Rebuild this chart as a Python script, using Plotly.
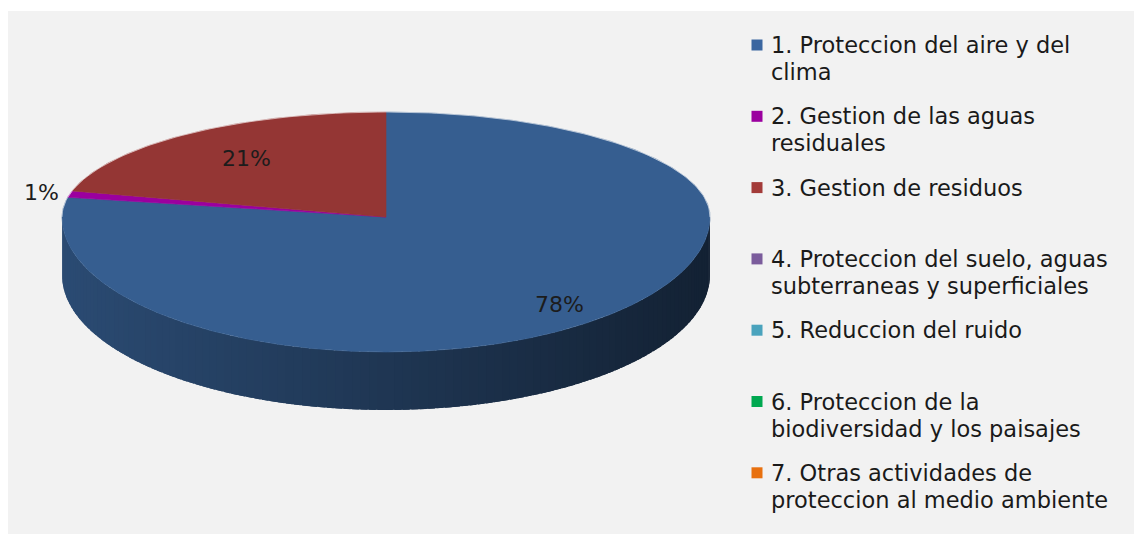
import math
import plotly.graph_objects as go

# ---- data ----
categories = [
    "1. Proteccion del aire y del<br>clima",
    "2. Gestion de las aguas<br>residuales",
    "3. Gestion de residuos",
    "4. Proteccion del suelo, aguas<br>subterraneas y superficiales",
    "5. Reduccion del ruido",
    "6. Proteccion de la<br>biodiversidad y los paisajes",
    "7. Otras actividades de<br>proteccion al medio ambiente",
]
values = [78, 1, 21, 0, 0, 0, 0]
slice_colors = ["#365e90", "#9b009f", "#943634", "#7b5c9c", "#4aa3bd", "#00a850", "#e8700f"]
legend_colors = ["#3b66a0", "#9b009f", "#a33b39", "#7b5c9c", "#4aa3bd", "#00a850", "#e8700f"]
label_radius = [0.84, 1.09, 0.70, 0.8, 0.8, 0.8, 0.8]

# ---- canvas / pie geometry (pixel space) ----
W, H = 1134, 534
CX, CY = 386, 217
RX = 324
RY_BACK, RY_FRONT = 105, 135
DEPTH = 58
START = 90.0  # first slice starts at 12 o'clock, clockwise
FONT = "DejaVu Sans, sans-serif"


def point(theta_deg, f=1.0):
    t = math.radians(theta_deg)
    s = math.sin(t)
    ry = RY_BACK if s > 0 else RY_FRONT
    return CX + RX * f * math.cos(t), CY - ry * f * s


def arc(a0, a1, n):
    pts = [point(a0 + (a1 - a0) * k / n) for k in range(n + 1)]
    return [p[0] for p in pts], [p[1] for p in pts]


def shade(hex_color, factor):
    h = hex_color.lstrip("#")
    r, g, b = (int(h[i:i + 2], 16) for i in (0, 2, 4))
    return "rgb(%d,%d,%d)" % (r * factor, g * factor, b * factor)


total = sum(values)
spans = []
a = START
for v in values:
    sweep = v / total * 360.0
    spans.append((a, a - sweep))
    a -= sweep

fig = go.Figure()


def owner(theta):
    # slice index whose angular span contains theta
    for i, (a0, a1) in enumerate(spans):
        if values[i] <= 0:
            continue
        t = theta
        while t > a0:
            t -= 360
        while t < a1:
            t += 360
        if a1 <= t <= a0:
            return i
    return 0


# ---- side wall (front half only), drawn as overlapping shaded strips ----
N_STRIPS = 120
x_left, x_right = CX - RX, CX + RX
step = 180.0 / N_STRIPS
for k in range(N_STRIPS):
    t0 = -180 + step * k
    t1 = min(0.0, t0 + step * 1.8)
    idx = owner(t0 + step / 2)
    xs, ys = arc(t0, t1, 3)
    xm = point(t0 + step / 2)[0]
    frac = (xm - x_left) / (x_right - x_left)
    factor = 0.80 - 0.44 * frac
    px = xs + xs[::-1]
    py = ys + [y + DEPTH for y in ys[::-1]]
    col = shade(slice_colors[idx], factor)
    fig.add_trace(go.Scatter(
        x=px + [px[0]], y=py + [py[0]], mode="lines", fill="toself",
        fillcolor=col, line=dict(color=col, width=0),
        hoverinfo="skip", showlegend=False,
    ))

# ---- top face slices ----
for i, (a0, a1) in enumerate(spans):
    if values[i] <= 0:
        continue
    n = max(4, int(abs(a0 - a1) * 2))
    xs, ys = arc(a0, a1, n)
    fig.add_trace(go.Scatter(
        x=[CX] + xs + [CX], y=[CY] + ys + [CY], mode="lines", fill="toself",
        fillcolor=slice_colors[i], line=dict(color=slice_colors[i], width=0.6),
        hoverinfo="skip", showlegend=False, name=categories[i],
    ))

# faint highlight along the back rim
hx, hy = arc(0, 180, 120)
fig.add_trace(go.Scatter(x=hx, y=hy, mode="lines",
                         line=dict(color="rgba(255,255,255,0.55)", width=1),
                         hoverinfo="skip", showlegend=False))

annotations = []
# ---- percentage labels ----
for i, (a0, a1) in enumerate(spans):
    if values[i] <= 0:
        continue
    lx, ly = point((a0 + a1) / 2, label_radius[i])
    annotations.append(dict(
        x=lx, y=ly, xref="x", yref="y", text="%d%%" % round(values[i] / total * 100),
        showarrow=False, xanchor="center", yanchor="middle",
        font=dict(family=FONT, size=22, color="#1c1c1c"),
    ))

# ---- legend ----
shapes = [dict(type="rect", xref="x", yref="y", x0=8, y0=11, x1=W, y1=H,
               fillcolor="#f2f2f2", line=dict(width=0), layer="below")]
LEG_X, LEG_Y0, LEG_PITCH, LINE_GAP = 769, 45, 71.3, 27
for i, name in enumerate(categories):
    yc = LEG_Y0 + LEG_PITCH * i
    shapes.append(dict(type="rect", xref="x", yref="y", x0=751.5, x1=762.5,
                       y0=yc - 5.5, y1=yc + 5.5, fillcolor=legend_colors[i],
                       line=dict(width=0)))
    for j, line in enumerate(name.split("<br>")):
        annotations.append(dict(
            x=LEG_X, y=yc + LINE_GAP * j, xref="x", yref="y", text=line,
            showarrow=False, xanchor="left", yanchor="middle", align="left",
            font=dict(family=FONT, size=22.5, color="#1a1a1a"),
        ))

fig.update_layout(
    width=W, height=H, autosize=False,
    margin=dict(l=0, r=0, t=0, b=0),
    paper_bgcolor="white", plot_bgcolor="rgba(0,0,0,0)",
    xaxis=dict(range=[0, W], visible=False, fixedrange=True),
    yaxis=dict(range=[H, 0], visible=False, fixedrange=True),
    shapes=shapes, annotations=annotations, showlegend=False,
)

fig.write_html("out.html")
